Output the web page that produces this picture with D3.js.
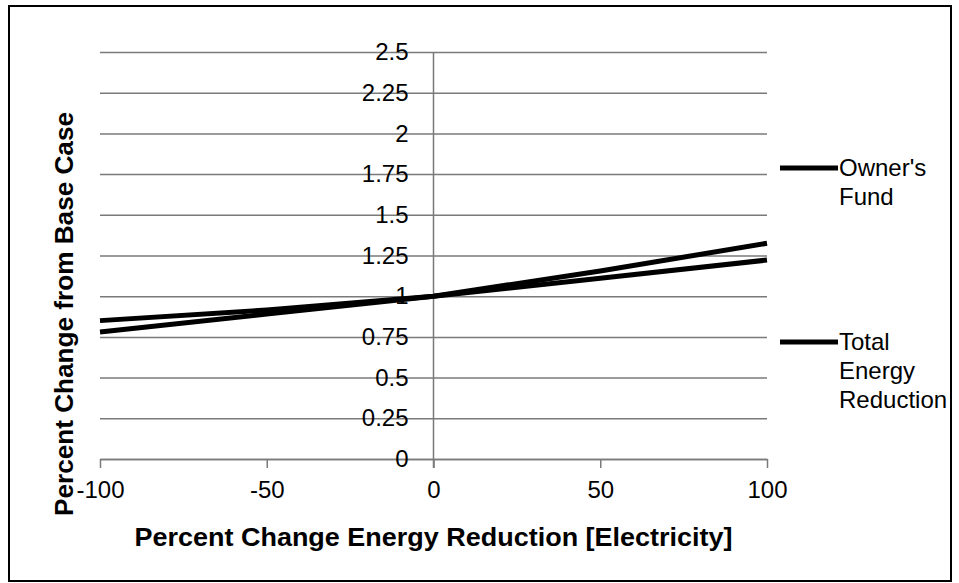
<!DOCTYPE html>
<html>
<head>
<meta charset="utf-8">
<script src="https://cdn.jsdelivr.net/npm/d3@7"></script>
<style>
  body { margin: 0; background: #fff; }
  text { font-family: "Liberation Sans", Arial, sans-serif; fill: #000; }
</style>
</head>
<body>
<script>
// data
var xValues = [-100, -50, 0, 50, 100];
var ownersFund = [0.78, 0.89, 1, 1.155, 1.325];
var totalEnergyReduction = [0.85, 0.915, 1, 1.11, 1.222];
var xTicks = [-100, -50, 0, 50, 100];
var yTicks = [0, 0.25, 0.5, 0.75, 1, 1.25, 1.5, 1.75, 2, 2.25, 2.5];

var W = 959, H = 583;
var margin = {top: 52, right: 192, bottom: 124, left: 100},
    width = W - margin.left - margin.right,
    height = H - margin.top - margin.bottom;

var svg = d3.select("body").append("svg")
    .attr("width", W)
    .attr("height", H);

// outer frame
svg.append("rect")
    .attr("x", 9).attr("y", 6)
    .attr("width", 942).attr("height", 575)
    .attr("fill", "none")
    .attr("stroke", "#000")
    .attr("stroke-width", 2);

var g = svg.append("g")
    .attr("transform", "translate(" + margin.left + "," + margin.top + ")");

var x = d3.scaleLinear().domain([-100, 100]).range([0, width]);
var y = d3.scaleLinear().domain([0, 2.5]).range([height, 0]);

// horizontal gridlines
g.append("g")
    .call(d3.axisLeft(y).tickValues(yTicks).tickSize(-width).tickFormat(""))
    .call(function(s) {
      s.select(".domain").remove();
      s.selectAll("line").attr("stroke", "#7a7a7a").attr("stroke-width", 1.5);
    });

// x axis along y = 0
g.append("g")
    .attr("transform", "translate(0," + height + ")")
    .call(d3.axisBottom(x).tickValues(xTicks).tickSize(9).tickPadding(13).tickSizeOuter(0)
        .tickFormat(function(d) { return String(d); }))
    .call(function(s) {
      s.select(".domain").attr("stroke", "#7a7a7a").attr("stroke-width", 1.5);
      s.selectAll("line").attr("stroke", "#7a7a7a").attr("stroke-width", 1.5);
      s.selectAll("text").attr("font-size", 24)
          .attr("font-family", "'Liberation Sans', Arial, sans-serif").attr("fill", "#000");
    });

// y axis crossing at x = 0
g.append("g")
    .attr("transform", "translate(" + x(0) + ",0)")
    .call(d3.axisLeft(y).tickValues(yTicks).tickSize(0).tickPadding(25)
        .tickFormat(function(d) { return String(d); }))
    .call(function(s) {
      s.select(".domain").remove();
      s.selectAll("text").attr("font-size", 24)
          .attr("font-family", "'Liberation Sans', Arial, sans-serif").attr("fill", "#000");
    });

g.append("line")
    .attr("x1", x(0)).attr("x2", x(0))
    .attr("y1", 0).attr("y2", height + 9)
    .attr("stroke", "#7a7a7a").attr("stroke-width", 1.5);

// series lines
var line = d3.line()
    .x(function(d, i) { return x(xValues[i]); })
    .y(function(d) { return y(d); });

[ownersFund, totalEnergyReduction].forEach(function(vals) {
  g.append("path")
      .datum(vals)
      .attr("fill", "none")
      .attr("stroke", "#000")
      .attr("stroke-width", 5)
      .attr("d", line);
});

// legend
var legend = [
  {name: ["Owner's", "Fund"], y: 168},
  {name: ["Total", "Energy", "Reduction"], y: 342}
];
legend.forEach(function(d) {
  svg.append("line")
      .attr("x1", 780).attr("x2", 838)
      .attr("y1", d.y).attr("y2", d.y)
      .attr("stroke", "#000").attr("stroke-width", 5);
  var t = svg.append("text")
      .attr("x", 839).attr("y", d.y + 8)
      .attr("font-size", 24);
  d.name.forEach(function(w, i) {
    t.append("tspan").attr("x", 839).attr("dy", i ? 29 : 0).text(w);
  });
});

// axis titles
svg.append("text")
    .attr("x", margin.left + x(0)).attr("y", 546)
    .attr("text-anchor", "middle")
    .attr("font-size", 26).attr("font-weight", "bold")
    .attr("textLength", 598).attr("lengthAdjust", "spacingAndGlyphs")
    .text("Percent Change Energy Reduction [Electricity]");

svg.append("text")
    .attr("transform", "translate(73,314) rotate(-90)")
    .attr("text-anchor", "middle")
    .attr("font-size", 26).attr("font-weight", "bold")
    .attr("textLength", 404).attr("lengthAdjust", "spacingAndGlyphs")
    .text("Percent Change from Base Case");
</script>
</body>
</html>
